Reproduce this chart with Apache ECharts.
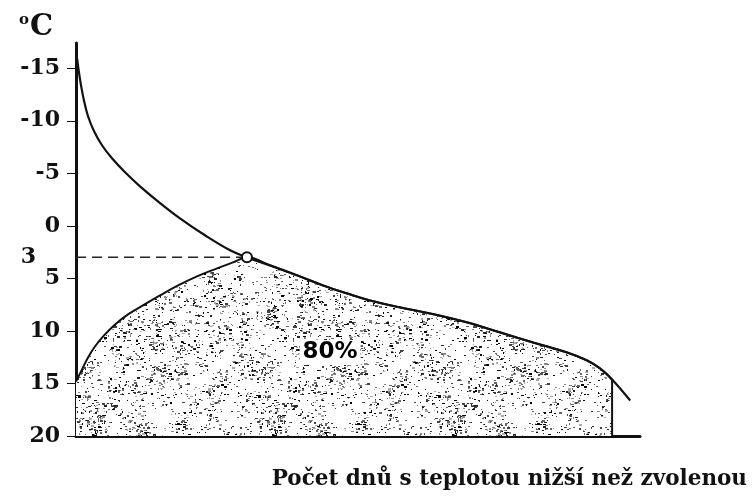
<!DOCTYPE html>
<html>
<head>
<meta charset="utf-8">
<script src="https://cdn.jsdelivr.net/npm/echarts@6/dist/echarts.min.js"></script>
<style>
  html, body { margin: 0; padding: 0; background: #fff; }
  #chart { width: 754px; height: 499px; }
</style>
</head>
<body>
<div id="chart"></div>
<script>
// x = days, y = temperature (°C), axis drawn inverted
const yTicks = [-15, -10, -5, 0, 5, 10, 15, 20];
const markedTemp = 3;
const markedDay = 116.4;
const shareLabel = "80%";
const shareAt = [173, 12.05];
const cutoffDay = 365;

// upper curve: days below given temperature
const upperCurve = [
  [0.8, -15.9], [2.0, -14.62], [3.4, -13.38], [5.4, -11.95], [8.2, -10.43],
  [12.3, -9.0], [17.7, -7.67], [24.5, -6.43], [33.4, -5.1], [43.6, -3.76],
  [55.8, -2.33], [70.8, -0.71], [87.8, 0.9], [104.9, 2.33], [116.4, 3.0],
  [132.1, 3.76], [150.5, 4.71], [168.2, 5.67], [184.5, 6.43], [200.2, 7.1],
  [220.6, 7.76], [243.1, 8.4], [266.3, 9.19], [288.7, 10.14], [311.2, 11.1],
  [334.4, 12.05], [348.0, 12.81], [356.8, 13.57], [365.0, 14.62], [377.3, 16.62]
];

// lower boundary of the shaded area, up to the marked point
const lowerCurve = [
  [0, 14.81], [4.1, 13.67], [8.2, 12.52], [12.9, 11.48], [19.1, 10.43],
  [26.6, 9.38], [35.4, 8.43], [45.6, 7.57], [57.2, 6.62], [69.5, 5.67],
  [82.4, 4.81], [96.0, 4.05], [106.9, 3.48], [116.4, 3.0]
];

const shadedEdge = lowerCurve.concat(
  upperCurve.filter(p => p[0] > markedDay && p[0] <= cutoffDay)
);
const cutoffTemp = upperCurve.find(p => p[0] === cutoffDay)[1];

// speckle texture for the shaded area (deterministic)
function makeSpeckle() {
  const size = 180;
  const c = document.createElement("canvas");
  c.width = size;
  c.height = size;
  const ctx = c.getContext("2d");
  ctx.fillStyle = "#fff";
  ctx.fillRect(0, 0, size, size);
  let s = 98765;
  const next = () => {
    s = (s * 1103515245 + 12345) & 0x7fffffff;
    return s / 0x7fffffff;
  };
  const shades = ["#000", "#222", "#444", "#666", "#888", "#aaa"];
  // loose clumps of dots and short dashes
  for (let k = 0; k < 260; k++) {
    const cx = next() * size;
    const cy = next() * size;
    const n = 3 + Math.floor(next() * 6);
    for (let i = 0; i < n; i++) {
      const x = Math.floor(cx + (next() - 0.5) * 12 + size) % size;
      const y = Math.floor(cy + (next() - 0.5) * 10 + size) % size;
      const w = 1 + Math.floor(next() * 3);
      const h = 1 + Math.floor(next() * 1.7);
      ctx.fillStyle = shades[Math.floor(next() * shades.length)];
      ctx.fillRect(x, y, w, h);
    }
  }
  for (let i = 0; i < 700; i++) {
    const x = Math.floor(next() * size);
    const y = Math.floor(next() * size);
    ctx.fillStyle = shades[Math.floor(next() * shades.length)];
    ctx.fillRect(x, y, 1 + Math.floor(next() * 2), 1);
  }
  return c;
}

const chart = echarts.init(document.getElementById("chart"), null, { renderer: "canvas" });

const serif = "'DejaVu Serif', serif";

chart.setOption({
  animation: false,
  backgroundColor: "#fff",
  title: [
    {
      left: 14,
      top: 8,
      text: "{o|o}{c|C}",
      textStyle: {
        rich: {
          o: { fontFamily: serif, fontWeight: "bold", fontSize: 15, color: "#111", verticalAlign: "top", padding: [0, 1, 12, 0] },
          c: { fontFamily: serif, fontWeight: "bold", fontSize: 29, color: "#111" }
        }
      }
    },
    {
      right: 2,
      top: 463,
      text: "Počet dnů s teplotou nižší než zvolenou",
      textStyle: {
        fontFamily: serif,
        fontWeight: "bold",
        fontSize: 21.5,
        color: "#111"
      }
    }
  ],
  grid: { left: 76, right: 114, top: 43, bottom: 63 },
  xAxis: {
    type: "value",
    min: 0,
    max: 384,
    axisLine: { onZero: false, lineStyle: { color: "#111", width: 3 } },
    axisTick: { show: false },
    axisLabel: { show: false },
    splitLine: { show: false }
  },
  yAxis: {
    type: "value",
    inverse: true,
    min: -17.4,
    max: 20,
    axisLine: { show: true, onZero: false, lineStyle: { color: "#111", width: 3 } },
    axisTick: {
      show: true,
      length: 9,
      customValues: yTicks,
      lineStyle: { color: "#111", width: 1 }
    },
    axisLabel: {
      customValues: yTicks,
      margin: 16,
      color: "#111",
      fontFamily: serif,
      fontWeight: "bold",
      fontSize: 22
    },
    splitLine: { show: false }
  },
  series: [
    {
      type: "line",
      data: shadedEdge,
      smooth: 0.4,
      symbol: "none",
      lineStyle: { color: "#111", width: 2 },
      areaStyle: {
        origin: "end",
        opacity: 1,
        color: { image: makeSpeckle(), repeat: "repeat" }
      },
      z: 1
    },
    {
      type: "line",
      data: upperCurve,
      smooth: 0.4,
      symbol: "none",
      lineStyle: { color: "#111", width: 2.2 },
      z: 3
    },
    {
      type: "line",
      data: [[cutoffDay, cutoffTemp], [cutoffDay, 20]],
      symbol: "none",
      lineStyle: { color: "#111", width: 2 },
      z: 3
    },
    {
      type: "line",
      data: [
        {
          value: [0, markedTemp],
          label: {
            show: true,
            formatter: String(markedTemp),
            position: "left",
            distance: 40,
            color: "#111",
            fontFamily: serif,
            fontWeight: "bold",
            fontSize: 22
          }
        },
        [markedDay, markedTemp]
      ],
      symbol: "circle",
      symbolSize: 0,
      showSymbol: true,
      lineStyle: { color: "#222", width: 1.5, type: [10, 6] },
      z: 2
    },
    {
      type: "scatter",
      data: [[markedDay, markedTemp]],
      symbol: "circle",
      symbolSize: 10,
      itemStyle: { color: "#fff", borderColor: "#111", borderWidth: 2, opacity: 1 },
      z: 5
    },
    {
      type: "scatter",
      data: [shareAt],
      symbol: "circle",
      symbolSize: 1,
      itemStyle: { color: "transparent", opacity: 1 },
      label: {
        show: true,
        position: "inside",
        formatter: shareLabel,
        color: "#000",
        fontFamily: "'DejaVu Sans', sans-serif",
        fontWeight: "bold",
        fontSize: 23,
        backgroundColor: "#fff",
        padding: [1, 3]
      },
      z: 4
    }
  ]
});
</script>
</body>
</html>
